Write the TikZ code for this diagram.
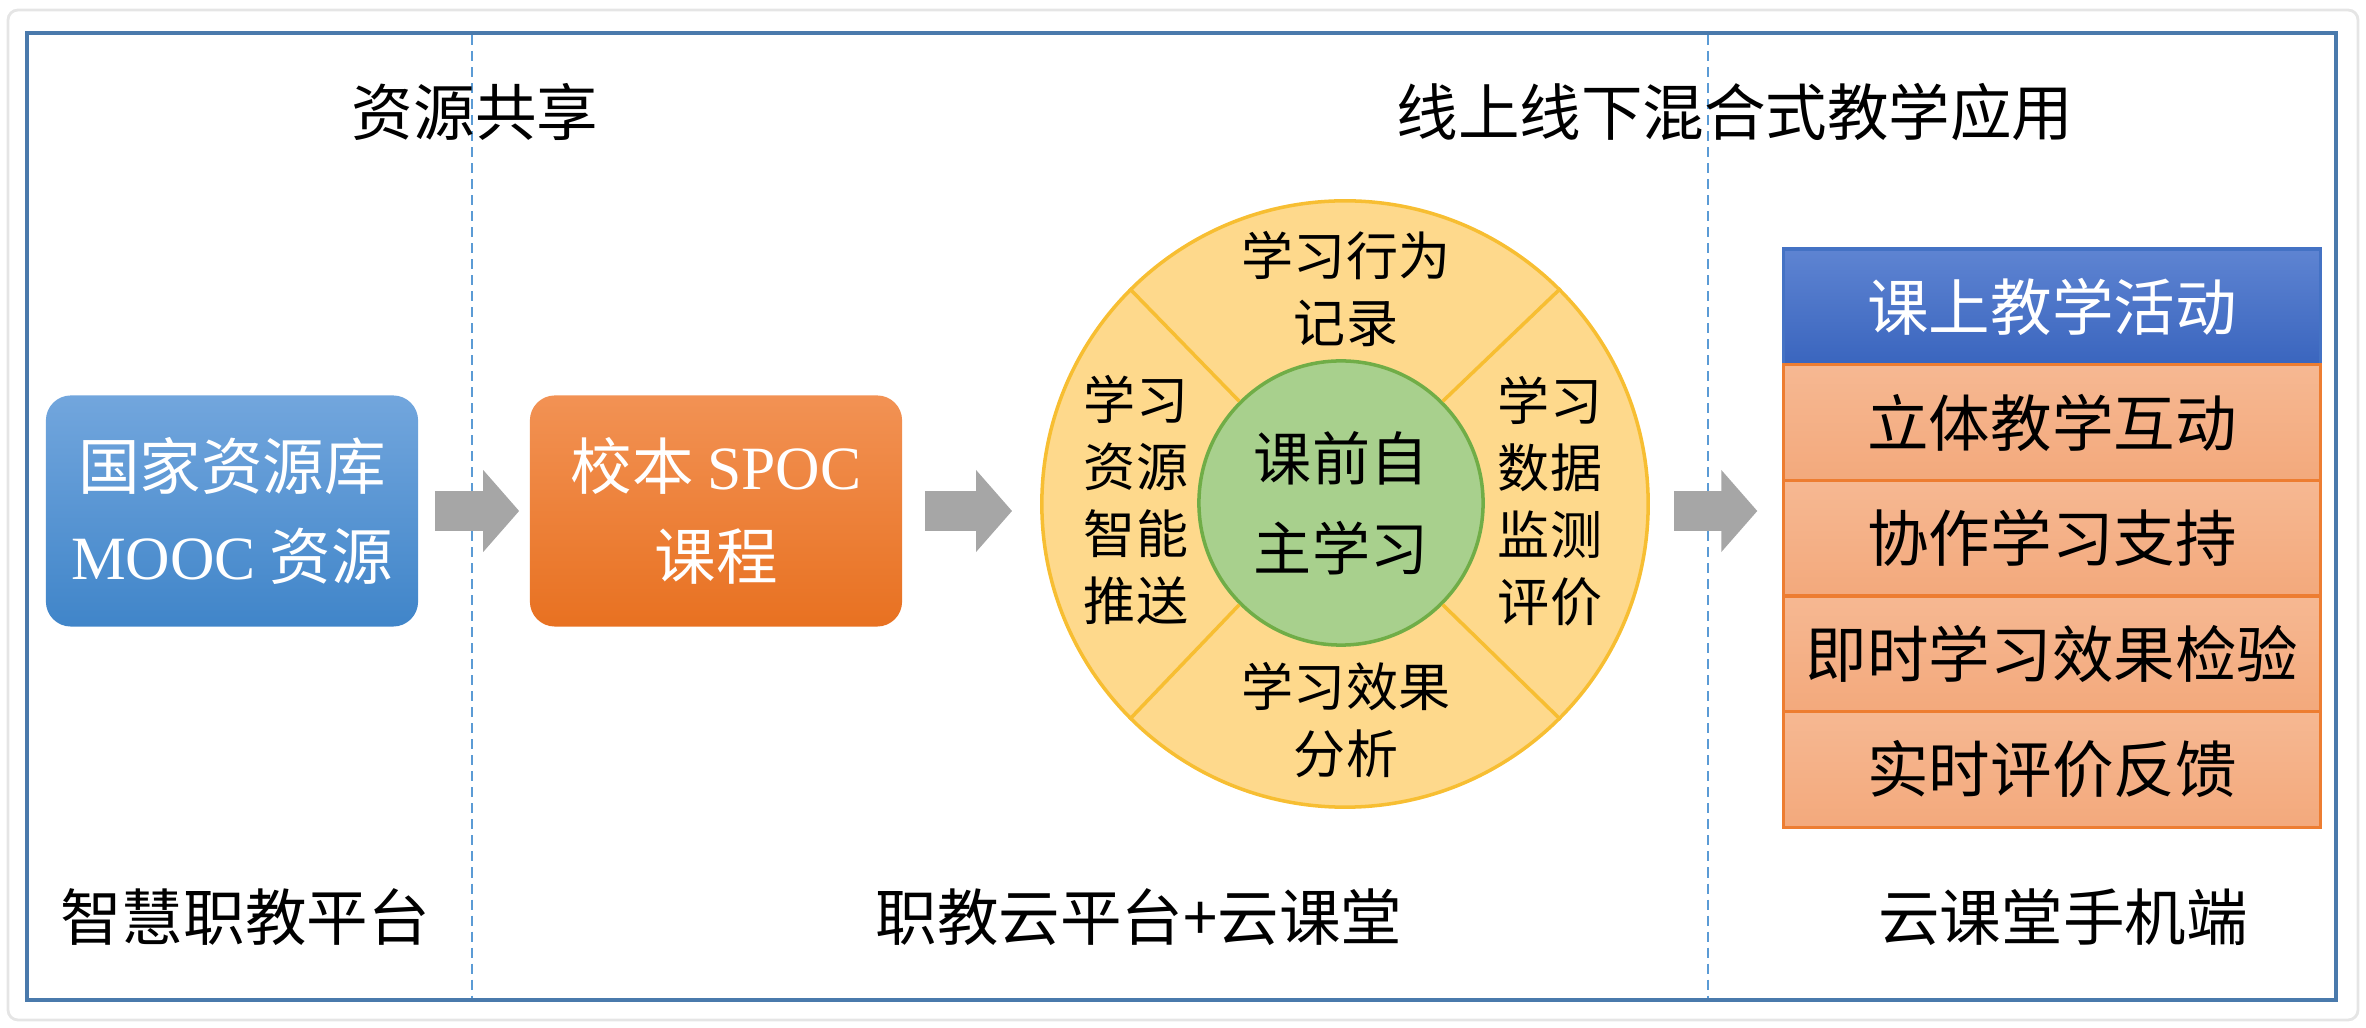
\documentclass[tikz,border=0pt]{standalone}
\usepackage{fontspec}
\setmainfont{Noto Sans CJK SC}
\newfontfamily\latin{Liberation Serif}
\usetikzlibrary{positioning,arrows.meta}

\definecolor{framec}{RGB}{74,122,172}
\definecolor{dashc}{RGB}{91,155,213}
\definecolor{bluetop}{RGB}{114,166,221}
\definecolor{bluebot}{RGB}{64,133,201}
\definecolor{orangetop}{RGB}{242,146,84}
\definecolor{orangebot}{RGB}{232,113,33}
\definecolor{arrowc}{RGB}{166,166,166}
\definecolor{ringfill}{RGB}{254,217,140}
\definecolor{ringline}{RGB}{247,190,50}
\definecolor{corefill}{RGB}{168,208,141}
\definecolor{coreline}{RGB}{112,173,71}
\definecolor{headtop}{RGB}{94,132,210}
\definecolor{headbot}{RGB}{58,101,190}
\definecolor{headline}{RGB}{68,114,196}
\definecolor{rowtop}{RGB}{246,184,146}
\definecolor{rowbot}{RGB}{243,169,124}
\definecolor{rowline}{RGB}{237,125,49}

\tikzset{
  lbl/.style={font=\fontsize{17.5}{21}\selectfont},
  card/.style={rounded corners=0.25cm, minimum width=3.72cm, minimum height=2.31cm,
    align=center, text=white, font=\fontsize{17.5}{25.5}\selectfont},
  flow/.style={line width=0.4cm, draw=arrowc, -{Triangle[length=0.36cm,width=0.8cm]}},
  seg/.style={align=center, font=\fontsize{14.8}{19}\selectfont},
  cell/.style={minimum width=5.37cm, minimum height=1.156cm, inner sep=0pt, outer sep=0pt,
    line width=1pt, font=\fontsize{17.5}{21}\selectfont},
  head/.style={cell, draw=headline, top color=headtop, bottom color=headbot, text=white},
  row/.style={cell, draw=rowline, top color=rowtop, bottom color=rowbot}
}

\begin{document}
\begin{tikzpicture}[x=0.01cm,y=-0.01cm]
  \useasboundingbox (0,0) rectangle (2366,1028);
  % frame and column separators
  \draw[gray!20, line width=0.8pt, rounded corners=0.1cm] (8,10) rectangle (2358,1020);
  \draw[framec, line width=1.3pt] (27,33) rectangle (2336,1000);
  \draw[dashc, line width=0.8pt, dash pattern=on 0.1cm off 0.06cm] (472,35) -- (472,998);
  \draw[dashc, line width=0.8pt, dash pattern=on 0.1cm off 0.06cm] (1708,35) -- (1708,998);

  % column titles
  \node[lbl] (share) at (475,112) {资源共享};
  \node[lbl] (blend) at (1735,112) {线上线下混合式教学应用};
  \node[lbl] (zjpt) at (245,917) {智慧职教平台};
  \node[lbl] (ypt) at (1139,917) {职教云平台+云课堂};
  \node[lbl] (mobile) at (2063,917) {云课堂手机端};

  % resources
  \node[card, top color=bluetop, bottom color=bluebot] (mooc) at (232,511) {国家资源库\\{\latin MOOC} 资源};
  \node[card, top color=orangetop, bottom color=orangebot] (spoc) at (716,511) {校本 {\latin SPOC}\\课程};

  % self study wheel
  \node[circle, draw=ringline, line width=1pt, fill=ringfill, minimum size=6.06cm] (wheel) at (1345,504) {};
  \node[circle, draw=coreline, line width=1pt, fill=corefill, minimum size=2.84cm, align=center,
    font=\fontsize{16.5}{25.5}\selectfont] (core) at (1341,503) {课前自\\主学习};
  \draw[ringline, line width=1pt] (core.45) -- (wheel.45);
  \draw[ringline, line width=1pt] (core.135) -- (wheel.135);
  \draw[ringline, line width=1pt] (core.225) -- (wheel.225);
  \draw[ringline, line width=1pt] (core.315) -- (wheel.315);
  \node[seg] (rec) at (1346,289) {学习行为\\记录};
  \node[seg] (push) at (1136,500) {学习\\资源\\智能\\推送};
  \node[seg] (eval) at (1550,501) {学习\\数据\\监测\\评价};
  \node[seg] (ana) at (1346,720) {学习效果\\分析};

  % class activities
  \node[head, anchor=north] (hd) at (2052,249) {课上教学活动};
  \node[row, below=0pt of hd] (r1) {立体教学互动};
  \node[row, below=0pt of r1] (r2) {协作学习支持};
  \node[row, below=0pt of r2] (r3) {即时学习效果检验};
  \node[row, below=0pt of r3] (r4) {实时评价反馈};

  % flow arrows
  \draw[flow, shorten <=0.16cm, shorten >=0.1cm] (mooc) -- (spoc);
  \draw[flow, shorten <=0.22cm, shorten >=0.28cm] (spoc.east) -- (spoc.east -| wheel.west);
  \draw[flow, shorten <=0.24cm, shorten >=0.26cm] (wheel.east |- mooc.east) -- (hd.west |- mooc.east);
\end{tikzpicture}
\end{document}
